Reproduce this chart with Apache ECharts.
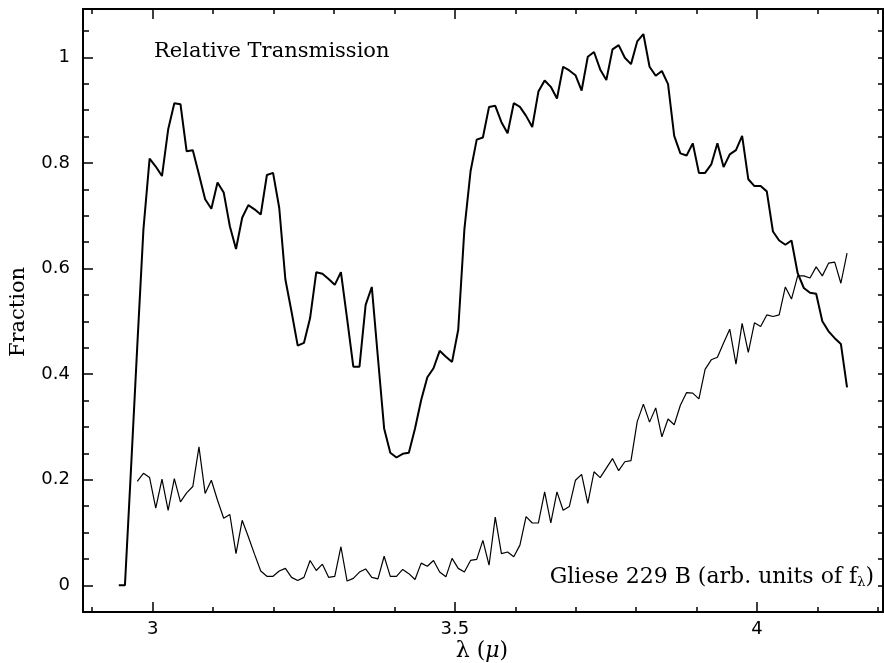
<!DOCTYPE html>
<html>
<head>
<meta charset="utf-8">
<script src="https://cdn.jsdelivr.net/npm/echarts@6/dist/echarts.min.js"></script>
<style>
  html, body { margin: 0; padding: 0; background: #fff; }
  #chart { width: 884px; height: 663px; }
</style>
</head>
<body>
<div id="chart"></div>
<script>
// Wavelength grid (microns), shared by both curves
const wavelength = [
  2.9439, 2.9541, 2.9643,
  2.9745, 2.9847, 2.9949, 3.0051, 3.0154, 3.0256, 3.0358, 3.0460, 3.0562, 3.0664,
  3.0766, 3.0868, 3.0971, 3.1073, 3.1175, 3.1277, 3.1379, 3.1481, 3.1583, 3.1685,
  3.1788, 3.1890, 3.1992, 3.2094, 3.2196, 3.2298, 3.2400, 3.2503, 3.2605, 3.2707,
  3.2809, 3.2911, 3.3013, 3.3115, 3.3217, 3.3320, 3.3422, 3.3524, 3.3626, 3.3728,
  3.3830, 3.3932, 3.4034, 3.4137, 3.4239, 3.4341, 3.4443, 3.4545, 3.4647, 3.4749,
  3.4852, 3.4954, 3.5056, 3.5158, 3.5260, 3.5362, 3.5464, 3.5566, 3.5669, 3.5771,
  3.5873, 3.5975, 3.6077, 3.6179, 3.6281, 3.6383, 3.6486, 3.6588, 3.6690, 3.6792,
  3.6894, 3.6996, 3.7098, 3.7200, 3.7303, 3.7405, 3.7507, 3.7609, 3.7711, 3.7813,
  3.7915, 3.8018, 3.8120, 3.8222, 3.8324, 3.8426, 3.8528, 3.8630, 3.8732, 3.8835,
  3.8937, 3.9039, 3.9141, 3.9243, 3.9345, 3.9447, 3.9549, 3.9652, 3.9754, 3.9856,
  3.9958, 4.0060, 4.0162, 4.0264, 4.0367, 4.0469, 4.0571, 4.0673, 4.0775, 4.0877,
  4.0979, 4.1081, 4.1184, 4.1286, 4.1388, 4.1490
];

// Atmospheric relative transmission (one value per wavelength above)
const transmission = [
  0, 0, 0.224,
  0.453, 0.674, 0.808, 0.793, 0.775, 0.863, 0.913, 0.911, 0.822, 0.824,
  0.778, 0.731, 0.713, 0.763, 0.744, 0.680, 0.637, 0.696, 0.720, 0.712,
  0.702, 0.777, 0.781, 0.715, 0.579, 0.518, 0.454, 0.459, 0.506, 0.593,
  0.590, 0.580, 0.569, 0.593, 0.505, 0.414, 0.414, 0.531, 0.565, 0.430,
  0.297, 0.251, 0.242, 0.249, 0.251, 0.297, 0.351, 0.394, 0.411, 0.444,
  0.433, 0.423, 0.484, 0.674, 0.784, 0.844, 0.848, 0.906, 0.908, 0.877,
  0.856, 0.913, 0.906, 0.889, 0.868, 0.935, 0.956, 0.944, 0.922, 0.982,
  0.975, 0.966, 0.937, 1.001, 1.010, 0.977, 0.957, 1.015, 1.023, 0.999,
  0.987, 1.030, 1.044, 0.982, 0.965, 0.974, 0.949, 0.851, 0.818, 0.814,
  0.837, 0.781, 0.781, 0.797, 0.837, 0.792, 0.816, 0.824, 0.851, 0.769,
  0.756, 0.756, 0.746, 0.670, 0.653, 0.645, 0.653, 0.591, 0.563, 0.554,
  0.552, 0.500, 0.481, 0.468, 0.457, 0.375
];

// Gliese 229 B flux, arbitrary units (starts at the 4th wavelength)
const gliese229B = [
  0.197, 0.212, 0.204, 0.146, 0.201, 0.142, 0.202, 0.158, 0.175, 0.187,
  0.262, 0.174, 0.199, 0.161, 0.127, 0.134, 0.060, 0.123, 0.092, 0.059,
  0.027, 0.017, 0.017, 0.027, 0.032, 0.015, 0.009, 0.015, 0.047, 0.028,
  0.040, 0.015, 0.017, 0.073, 0.008, 0.013, 0.025, 0.031, 0.015, 0.012,
  0.055, 0.017, 0.017, 0.030, 0.022, 0.011, 0.042, 0.036, 0.047, 0.025,
  0.016, 0.051, 0.032, 0.025, 0.047, 0.049, 0.085, 0.038, 0.129, 0.060,
  0.063, 0.054, 0.076, 0.130, 0.118, 0.118, 0.177, 0.118, 0.177, 0.142,
  0.149, 0.199, 0.210, 0.155, 0.215, 0.204, 0.222, 0.240, 0.217, 0.234,
  0.236, 0.310, 0.343, 0.309, 0.336, 0.281, 0.315, 0.304, 0.341, 0.365,
  0.364, 0.353, 0.409, 0.427, 0.432, 0.459, 0.485, 0.419, 0.496, 0.441,
  0.497, 0.490, 0.512, 0.509, 0.512, 0.565, 0.542, 0.586, 0.586, 0.582,
  0.603, 0.586, 0.610, 0.612, 0.572, 0.629
];
const fluxOffset = 3;

// Axis ranges and tick positions
const xRange = [2.8847, 4.2085];
const yRange = [-0.0506, 1.0914];
const xMajorTicks = [3, 3.5, 4];
const xMinorTicks = [2.9, 3.0, 3.1, 3.2, 3.3, 3.4, 3.5, 3.6, 3.7, 3.8, 3.9, 4.0, 4.1, 4.2];
const yMajorTicks = [0, 0.2, 0.4, 0.6, 0.8, 1];
const yMinorTicks = [-0.05, 0, 0.05, 0.1, 0.15, 0.2, 0.25, 0.3, 0.35, 0.4, 0.45, 0.5,
                     0.55, 0.6, 0.65, 0.7, 0.75, 0.8, 0.85, 0.9, 0.95, 1.0, 1.05];

const transmissionData = wavelength.map((w, i) => [w, transmission[i]]);
const fluxData = gliese229B.map((f, i) => [wavelength[i + fluxOffset], f]);

const INK = '#000';
const SERIF = '"DejaVu Serif", "Liberation Serif", serif';
const SANS = '"DejaVu Sans", "Liberation Sans", sans-serif';

function fmt(v) {
  if (Math.abs(v - Math.round(v)) < 1e-9) return String(Math.round(v));
  return String(+v.toFixed(2));
}

function xAxisDef(position, ticks, len, showLabel, showLine) {
  return {
    type: 'value', position: position, min: xRange[0], max: xRange[1],
    axisLine: { show: showLine, onZero: false, lineStyle: { color: INK, width: 2 } },
    axisTick: { show: true, inside: true, length: len, customValues: ticks,
                lineStyle: { color: INK, width: 1.5 } },
    axisLabel: { show: showLabel, customValues: ticks, formatter: fmt, margin: 8,
                 color: INK, fontFamily: SANS, fontSize: 18 },
    splitLine: { show: false }, minorTick: { show: false }
  };
}
function yAxisDef(position, ticks, len, showLabel, showLine) {
  return {
    type: 'value', position: position, min: yRange[0], max: yRange[1],
    axisLine: { show: showLine, onZero: false, lineStyle: { color: INK, width: 2 } },
    axisTick: { show: true, inside: true, length: len, customValues: ticks,
                lineStyle: { color: INK, width: 1.5 } },
    axisLabel: { show: showLabel, customValues: ticks, formatter: fmt, margin: 13,
                 color: INK, fontFamily: SANS, fontSize: 18 },
    splitLine: { show: false }, minorTick: { show: false }
  };
}

const chart = echarts.init(document.getElementById('chart'), null, { renderer: 'canvas' });
chart.setOption({
  animation: false,
  backgroundColor: '#fff',
  grid: { left: 83, right: 1, top: 9, bottom: 51, containLabel: false },
  xAxis: [
    xAxisDef('bottom', xMajorTicks, 10, true, true),
    xAxisDef('bottom', xMinorTicks, 5, false, false),
    xAxisDef('top', xMajorTicks, 10, false, true),
    xAxisDef('top', xMinorTicks, 5, false, false)
  ],
  yAxis: [
    yAxisDef('left', yMajorTicks, 10, true, true),
    yAxisDef('left', yMinorTicks, 6, false, false),
    yAxisDef('right', yMinorTicks, 5, false, true)
  ],
  series: [
    {
      name: 'Relative Transmission', type: 'line', xAxisIndex: 0, yAxisIndex: 0,
      data: transmissionData, showSymbol: false, smooth: false,
      lineStyle: { color: INK, width: 2 }
    },
    {
      name: 'Gliese 229 B', type: 'line', xAxisIndex: 0, yAxisIndex: 0,
      data: fluxData, showSymbol: false, smooth: false,
      lineStyle: { color: INK, width: 1.2 }
    }
  ],
  graphic: [
    {
      type: 'text', x: 154, y: 52,
      style: { text: 'Relative Transmission', fill: INK, font: '21px ' + SERIF,
               align: 'left', verticalAlign: 'middle' }
    },
    {
      type: 'text', x: 874, y: 577,
      style: {
        text: 'Gliese 229 B (arb. units of f{sub|λ})', fill: INK, font: '22px ' + SERIF,
        align: 'right', verticalAlign: 'middle',
        rich: { sub: { fontSize: 13, fontFamily: SERIF, fill: INK, padding: [12, 0, 0, 0] } }
      }
    },
    {
      type: 'text', x: 19, y: 312, rotation: Math.PI / 2,
      style: { text: 'Fraction', fill: INK, font: '21px ' + SERIF, align: 'center', verticalAlign: 'middle' }
    },
    {
      type: 'text', x: 482, y: 651,
      style: {
        text: 'λ ({mu|μ})', fill: INK, font: '22px ' + SERIF, align: 'center', verticalAlign: 'middle',
        rich: { mu: { fontStyle: 'italic', fontSize: 22, fontFamily: SERIF, fill: INK } }
      }
    }
  ]
});
</script>
</body>
</html>
